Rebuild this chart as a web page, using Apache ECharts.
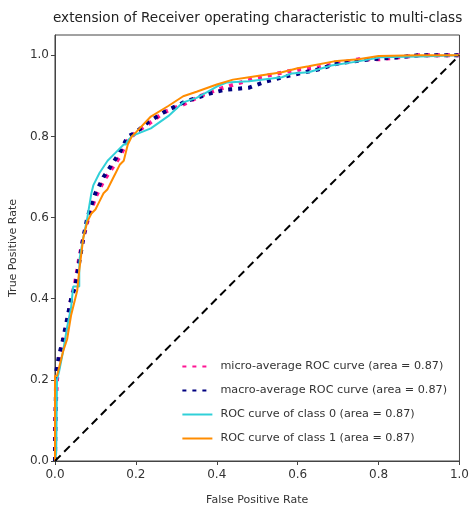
<!DOCTYPE html>
<html><head><meta charset="utf-8">
<script src="https://cdn.jsdelivr.net/npm/echarts@6/dist/echarts.min.js"></script>
<style>html,body{margin:0;padding:0;background:#fff}#c{width:472px;height:512px}</style>
</head><body><div id="c"></div>
<script>
const titleText = 'extension of Receiver operating characteristic to multi-class';
const xTicks = [0, 0.2, 0.4, 0.6, 0.8, 1.0];
const yTicks = [0, 0.2, 0.4, 0.6, 0.8, 1.0];
const seriesNames = ['micro-average ROC curve (area = 0.87)', 'macro-average ROC curve (area = 0.87)', 'ROC curve of class 0 (area = 0.87)', 'ROC curve of class 1 (area = 0.87)'];

const microFpr = [0,0,0.005,0.01,0.02,0.03,0.04,0.05,0.06,0.07,0.08,0.09,0.1,0.12,0.14,0.16,0.18,0.2,0.23,0.27,0.32,0.36,0.4,0.45,0.5,0.55,0.6,0.65,0.7,0.75,0.8,0.85,0.9,1.0];
const microTpr = [0,0.09,0.2,0.25,0.29,0.34,0.40,0.44,0.50,0.55,0.59,0.62,0.65,0.69,0.72,0.75,0.79,0.81,0.83,0.86,0.88,0.9,0.915,0.93,0.945,0.955,0.965,0.97,0.98,0.99,0.99,0.995,1.0,1.0];

const macroFpr = [0,0.003,0.01,0.02,0.03,0.04,0.05,0.06,0.07,0.08,0.09,0.1,0.12,0.14,0.16,0.18,0.2,0.23,0.27,0.32,0.38,0.42,0.48,0.52,0.58,0.65,0.7,0.78,0.85,0.9,1.0];
const macroTpr = [0,0.22,0.26,0.30,0.35,0.40,0.43,0.49,0.55,0.60,0.63,0.66,0.70,0.73,0.76,0.80,0.81,0.835,0.86,0.885,0.905,0.915,0.92,0.935,0.95,0.965,0.98,0.99,0.995,1.0,1.0];

const class0Fpr = [0,0.003,0.005,0.01,0.02,0.03,0.04,0.045,0.06,0.06,0.061,0.07,0.08,0.085,0.09,0.095,0.11,0.13,0.15,0.17,0.175,0.18,0.19,0.2,0.237,0.28,0.317,0.35,0.376,0.4,0.424,0.48,0.561,0.585,0.627,0.683,0.75,0.805,0.9,1.0];
const class0Tpr = [0,0.02,0.2,0.22,0.27,0.33,0.38,0.43,0.43,0.47,0.50,0.55,0.60,0.63,0.66,0.68,0.71,0.74,0.76,0.78,0.78,0.79,0.80,0.805,0.82,0.85,0.884,0.895,0.909,0.923,0.933,0.936,0.946,0.955,0.958,0.975,0.985,0.995,0.997,1.0];

const class1Fpr = [0,0,0.005,0.01,0.02,0.03,0.04,0.05,0.055,0.06,0.065,0.07,0.075,0.08,0.09,0.1,0.11,0.12,0.13,0.14,0.15,0.16,0.17,0.18,0.19,0.2,0.237,0.28,0.317,0.35,0.4,0.44,0.48,0.52,0.561,0.6,0.627,0.69,0.75,0.8,0.9,1.0];
const class1Tpr = [0,0.21,0.21,0.23,0.27,0.30,0.36,0.40,0.42,0.47,0.51,0.55,0.57,0.59,0.61,0.62,0.64,0.66,0.67,0.69,0.71,0.73,0.74,0.78,0.80,0.81,0.849,0.875,0.899,0.91,0.928,0.94,0.946,0.952,0.958,0.968,0.973,0.985,0.99,0.998,1.0,1.0];

const diagX = [0, 1];
const diagY = [0, 1];

const pairs = (xs, ys) => xs.map((x, i) => [x, ys[i]]);
const font = 'DejaVu Sans';
const chart = echarts.init(document.getElementById('c'), null, {renderer: 'canvas'});
const lineSeries = (name, xs, ys, color, width, type) => ({
  name, type: 'line', data: pairs(xs, ys), showSymbol: false, symbol: 'none', animation: false,
  lineStyle: {color, width, type, cap: 'butt'}, itemStyle: {color}
});
chart.setOption({
  animation: false,
  backgroundColor: '#fff',
  title: {text: titleText, left: 48, top: 6,
    textStyle: {fontFamily: font, fontSize: 13.6, fontWeight: 'normal', color: '#222'}},
  grid: {left: 53, right: 9, top: 35, bottom: 51, show: true, borderColor: '#444', borderWidth: 1, backgroundColor: 'transparent'},
  legend: {
    right: 20, top: 356, orient: 'vertical', itemWidth: 30, itemHeight: 10, itemGap: 13,
    data: seriesNames,
    itemStyle: {opacity: 0},
    textStyle: {fontFamily: font, fontSize: 11.2, color: '#333', padding: [0, 0, 0, 3]},
    backgroundColor: 'rgba(255,255,255,0.8)'
  },
  xAxis: {
    type: 'value', min: 0, max: 1, interval: 0.2,
    name: 'False Positive Rate', nameLocation: 'middle', nameGap: 34,
    nameTextStyle: {fontFamily: font, fontSize: 11, color: '#333'},
    axisLine: {show: true, lineStyle: {color: '#444'}},
    axisTick: {show: true, length: 4, lineStyle: {color: '#444'}, customValues: xTicks},
    axisLabel: {customValues: xTicks, formatter: v => v.toFixed(1), fontFamily: font, fontSize: 12, color: '#333', margin: 8},
    splitLine: {show: false}
  },
  yAxis: {
    type: 'value', min: 0, max: 1.05, interval: 0.2,
    name: 'True Positive Rate', nameLocation: 'middle', nameGap: 32,
    nameTextStyle: {fontFamily: font, fontSize: 11, color: '#333'},
    axisLine: {show: true, lineStyle: {color: '#444'}},
    axisTick: {show: true, length: 4, lineStyle: {color: '#444'}, customValues: yTicks},
    axisLabel: {customValues: yTicks, formatter: v => v.toFixed(1), fontFamily: font, fontSize: 12, color: '#333', margin: 6},
    splitLine: {show: false}
  },
  series: [
    lineSeries(seriesNames[0], microFpr, microTpr, '#ff1493', 4, [4, 6]),
    lineSeries(seriesNames[1], macroFpr, macroTpr, '#000080', 4, [4, 6]),
    lineSeries(seriesNames[2], class0Fpr, class0Tpr, '#30d0d8', 2, 'solid'),
    lineSeries(seriesNames[3], class1Fpr, class1Tpr, '#ff8c00', 2, 'solid'),
    lineSeries('chance', diagX, diagY, '#000', 2, [8, 5])
  ]
});
</script></body></html>
